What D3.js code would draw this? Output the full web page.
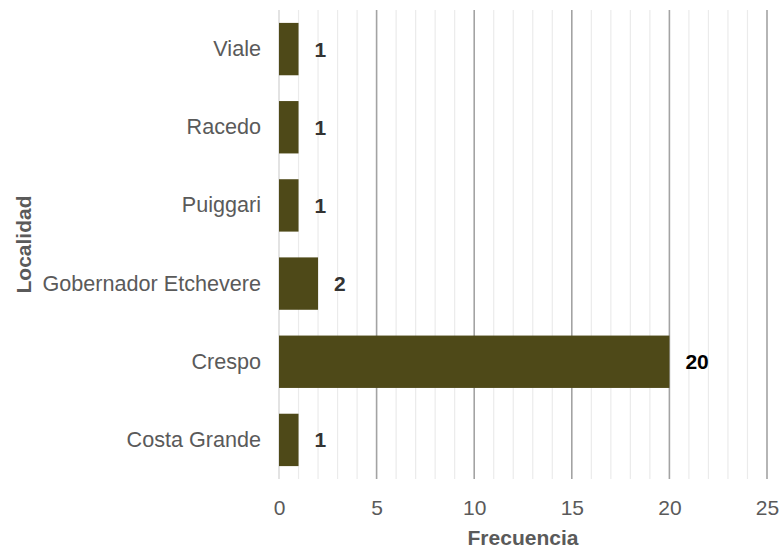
<!DOCTYPE html>
<html><head><meta charset="utf-8">
<script src="https://cdn.jsdelivr.net/npm/d3@7"></script>
<style>body{margin:0;background:#fff}svg{display:block}</style>
</head><body>
<script>
const categories = ["Viale","Racedo","Puiggari","Gobernador Etchevere","Crespo","Costa Grande"];
const values = [1,1,1,2,20,1];
const xTicks = [0,5,10,15,20,25];

const W=781,H=549;
const m={left:279,right:14,top:10,bottom:70};
const svg=d3.select("body").append("svg").attr("width",W).attr("height",H);
const font="'Liberation Sans', Arial, sans-serif";
const x=d3.scaleLinear().domain([0,25]).range([m.left,W-m.right]);
const y=d3.scaleBand().domain(categories).range([m.top,H-m.bottom]).paddingInner(0.33).paddingOuter(0.165);

const g=svg.append("g");
g.selectAll("line.minor").data(d3.range(0,26).filter(v=>v%5!==0)).join("line")
 .attr("x1",d=>x(d)).attr("x2",d=>x(d)).attr("y1",m.top).attr("y2",H-m.bottom)
 .attr("stroke","#ebebeb").attr("stroke-width",1.2);
g.selectAll("line.major").data(xTicks).join("line")
 .attr("x1",d=>x(d)).attr("x2",d=>x(d)).attr("y1",m.top).attr("y2",H-m.bottom)
 .attr("stroke",d=>d===0?"#dcdcdc":"#a3a3a3").attr("stroke-width",1.6);

svg.selectAll("rect.bar").data(categories).join("rect")
 .attr("x",x(0)).attr("y",d=>y(d)).attr("height",y.bandwidth())
 .attr("width",(d,i)=>x(values[i])-x(0)).attr("fill","#4e4918");

svg.selectAll("text.val").data(categories).join("text")
 .attr("x",(d,i)=>x(values[i])+16).attr("y",d=>y(d)+y.bandwidth()/2)
 .attr("dy","0.36em").attr("font-family",font).attr("font-weight","bold").attr("font-size",21)
 .attr("fill",(d,i)=>values[i]>=10?"#000":"#333").text((d,i)=>values[i]);

const xa=svg.append("g").attr("transform",`translate(0,${H-m.bottom})`)
 .call(d3.axisBottom(x).tickValues(xTicks).tickSize(0).tickPadding(21));
xa.select(".domain").remove();
xa.selectAll("text").attr("font-family",font).attr("font-size",21).attr("fill","#5a5a5a");

const ya=svg.append("g").attr("transform",`translate(${m.left},0)`)
 .call(d3.axisLeft(y).tickSize(0).tickPadding(18));
ya.select(".domain").remove();
ya.selectAll("text").attr("font-family",font).attr("font-size",21.6).attr("fill","#5a5a5a");

svg.append("text").attr("x",(x(0)+x(25))/2).attr("y",545).attr("text-anchor","middle")
 .attr("font-family",font).attr("font-weight","bold").attr("font-size",21).attr("fill","#5a5a5a").text("Frecuencia");
svg.append("text").attr("transform",`translate(31,${(m.top+H-m.bottom)/2}) rotate(-90)`).attr("text-anchor","middle")
 .attr("font-family",font).attr("font-weight","bold").attr("font-size",21).attr("fill","#5a5a5a").text("Localidad");
</script>
</body></html>
